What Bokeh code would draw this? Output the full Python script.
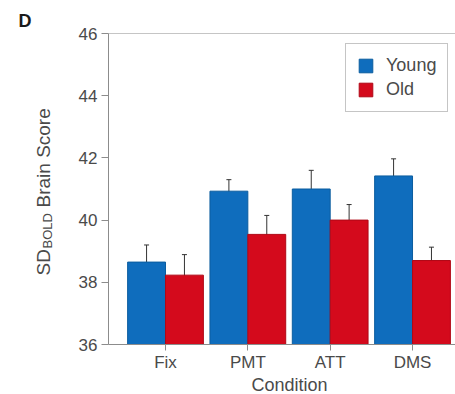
import numpy as np
from bokeh.plotting import figure
from bokeh.models import (ColumnDataSource, Whisker, Label, Span, FixedTicker,
                          TeeHead, Range1d)
from bokeh.embed import file_html
from bokeh.resources import INLINE

# ---- data ----
conditions = ["Fix", "PMT", "ATT", "DMS"]
young = [38.65, 40.93, 41.0, 41.42]
old = [38.23, 39.54, 40.0, 38.7]
young_err = [0.55, 0.37, 0.6, 0.55]
old_err = [0.66, 0.61, 0.5, 0.43]
y_ticks = [36, 38, 40, 42, 44, 46]

# ---- style ----
BLUE = "#0f6dbd"
BLUE_EDGE = "#0b5d9f"
RED = "#d40a1c"
RED_EDGE = "#b00816"
AXIS = "#8c8c8c"
TXT = "#4a4a4a"
FONT = "Liberation Sans"

pos = np.arange(1, len(conditions) + 1, dtype=float)
off = 0.23
bw = 0.46

ya = np.array(young); ye = np.array(young_err)
oa = np.array(old); oe = np.array(old_err)
src_y = ColumnDataSource(dict(x=pos - off, top=ya, upper=ya + ye, lower=ya - ye))
src_o = ColumnDataSource(dict(x=pos + off, top=oa, upper=oa + oe, lower=oa - oe))

p = figure(width=455, height=394, output_backend="svg", toolbar_location=None,
           x_range=Range1d(0.3077, 4.522), y_range=Range1d(y_ticks[0], y_ticks[-1]),
           min_border_left=108, min_border_right=0, min_border_top=33,
           min_border_bottom=50)
p.outline_line_color = None
p.xgrid.visible = False
p.ygrid.visible = False
p.background_fill_color = "white"
p.border_fill_color = "white"

p.vbar(x="x", top="top", bottom=y_ticks[0], width=bw, source=src_y,
       fill_color=BLUE, line_color=BLUE_EDGE, line_width=1, legend_label="Young")
p.vbar(x="x", top="top", bottom=y_ticks[0], width=bw, source=src_o,
       fill_color=RED, line_color=RED_EDGE, line_width=1, legend_label="Old")

for src in (src_y, src_o):
    w = Whisker(source=src, base="x", upper="upper", lower="lower",
                line_color="#333333", line_width=1,
                upper_head=TeeHead(size=5, line_color="#333333", line_width=1),
                lower_head=TeeHead(size=5, line_color="#333333", line_width=1))
    p.add_layout(w)

p.add_layout(Span(location=y_ticks[-1], dimension="width", line_color=AXIS, line_width=1))

# axes
p.xaxis.ticker = FixedTicker(ticks=list(pos))
p.xaxis.major_label_overrides = {int(v): c for v, c in zip(pos, conditions)}
p.yaxis.ticker = FixedTicker(ticks=y_ticks)
for ax in (p.xaxis, p.yaxis):
    ax.axis_line_color = AXIS
    ax.major_tick_line_color = AXIS
    ax.minor_tick_line_color = None
    ax.major_tick_in = 0
    ax.major_label_text_font = FONT
    ax.major_label_text_font_size = "17px"
    ax.major_label_text_color = TXT
p.xaxis.major_tick_out = 6
p.xaxis.major_label_standoff = 2
p.yaxis.major_tick_out = 7
p.yaxis.major_label_standoff = 4

# axis titles as labels placed in side panels (side-panel annotations are not clipped)
def lab(place, **kw):
    base = dict(text_font=FONT, text_color=TXT, text_align="left",
                text_baseline="alphabetic", x_units="screen", y_units="screen")
    base.update(kw)
    p.add_layout(Label(**base), place)

lab("below", x=181, y=10, text="Condition", text_align="center", text_font_size="18px")
lab("left", x=-11, y=69, text="SD", angle=np.pi / 2, text_font_size="19px")
lab("left", x=8, y=96, text="BOLD", angle=np.pi / 2, text_font_size="13px")
lab("left", x=25, y=137, text="Brain Score", angle=np.pi / 2, text_font_size="19px")
lab("above", x=-90, y=13, text="D", text_font_size="18px", text_font_style="bold",
    text_color="#1a1a1a")

# legend
lg = p.legend[0]
lg.location = (237, 232)
lg.border_line_color = AXIS
lg.border_line_width = 1
lg.background_fill_color = "white"
lg.background_fill_alpha = 1
lg.padding = 11
lg.margin = 0
lg.spacing = 3
lg.glyph_width = 17
lg.glyph_height = 17
lg.label_standoff = 12
lg.label_text_font = FONT
lg.label_text_font_size = "18px"
lg.label_text_color = TXT

open("out.html", "w").write(file_html(p, INLINE))
